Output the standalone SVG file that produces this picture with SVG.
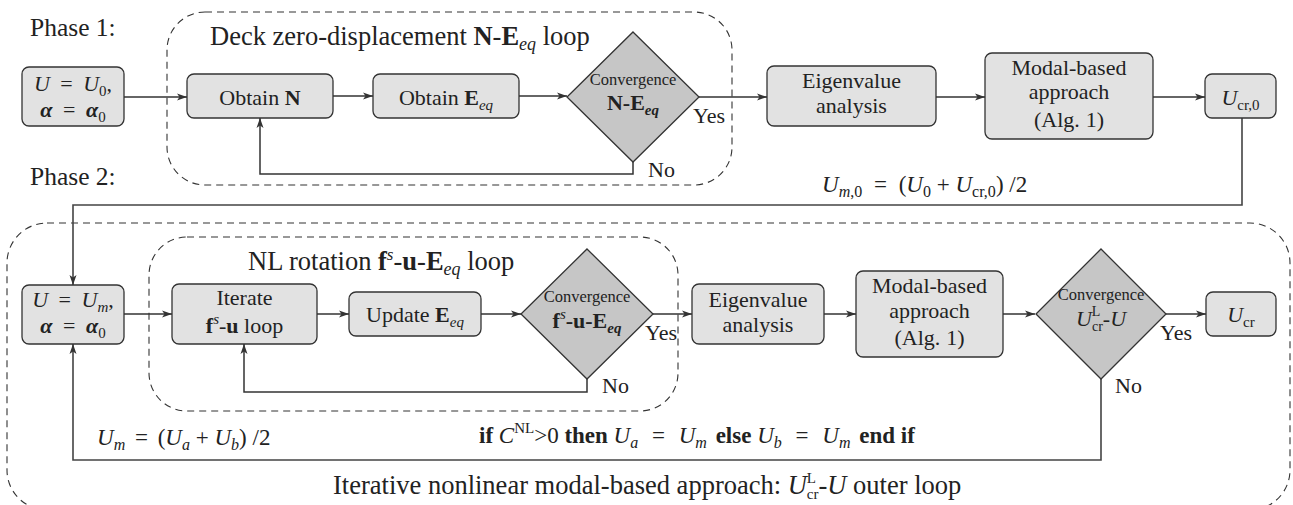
<svg xmlns="http://www.w3.org/2000/svg" width="1293" height="505" viewBox="0 0 1293 505" font-family="'Liberation Serif', 'DejaVu Serif', serif">
<defs>
<style>
text{font-family:'Liberation Serif','DejaVu Serif',serif;fill:#222;}
.t{font-size:22px;}
.m{font-size:23px;}
.big{font-size:26.5px;}
.ph{font-size:25.5px;}
.sm{font-size:16.5px;}
.box{fill:#e2e2e2;stroke:#333;stroke-width:1.3;}
.dia{fill:#c6c6c6;stroke:#333;stroke-width:1.3;}
.dash{fill:none;stroke:#333;stroke-width:1.1;stroke-dasharray:7 5;}
.ln{fill:none;stroke:#333;stroke-width:1.5;}
.frame{fill:none;stroke:#444;stroke-width:1.6;}
.i{font-style:italic;}
.b{font-weight:bold;}
</style>
<marker id="ah" markerWidth="10" markerHeight="8" refX="10" refY="4" orient="auto" markerUnits="userSpaceOnUse">
<path d="M0,0.5 L10,4 L0,7.5 L2.5,4 z" fill="#333"/>
</marker>
</defs>
<rect width="1293" height="505" fill="#fff"/>

<g id="labels">
<text class="ph" x="30" y="36">Phase 1:</text>
<text class="ph" x="30" y="185">Phase 2:</text>
</g>

<g id="loop1-frame">
<rect class="dash" x="167" y="12" width="565" height="173" rx="38"/>
<text class="big" x="210" y="45">Deck zero-displacement <tspan class="b">N</tspan>-<tspan class="b">E</tspan><tspan class="i" font-size="18" dy="5">eq</tspan><tspan dy="-5"> loop</tspan></text>
</g>
<g id="loop2-frame">
<rect class="dash" x="149" y="237" width="529" height="174" rx="38"/>
<text class="big" x="248" y="270">NL rotation <tspan class="b">f</tspan><tspan class="i" font-size="17" dy="-10">s</tspan><tspan dy="10">-</tspan><tspan class="b">u</tspan>-<tspan class="b">E</tspan><tspan class="i" font-size="18" dy="5">eq</tspan><tspan dy="-5"> loop</tspan></text>
</g>
<g id="outer-frame">
<rect class="dash" x="7" y="223" width="1283" height="287" rx="40"/>
</g>

<g id="connectors">
<line class="ln" x1="124" y1="97" x2="187" y2="97" marker-end="url(#ah)"/>
<line class="ln" x1="333" y1="96" x2="373" y2="96" marker-end="url(#ah)"/>
<line class="ln" x1="519" y1="96" x2="567" y2="96" marker-end="url(#ah)"/>
<line class="ln" x1="699" y1="97" x2="767" y2="97" marker-end="url(#ah)"/>
<line class="ln" x1="936" y1="97" x2="985" y2="97" marker-end="url(#ah)"/>
<line class="ln" x1="1153" y1="97" x2="1205" y2="97" marker-end="url(#ah)"/>
<polyline class="ln" points="633,162 633,174 260,174 260,118" marker-end="url(#ah)"/>
<polyline class="frame" points="1242,118 1242,205 73,205 73,285" marker-end="url(#ah)"/>
<line class="ln" x1="124" y1="314" x2="172" y2="314" marker-end="url(#ah)"/>
<line class="ln" x1="317" y1="314" x2="349" y2="314" marker-end="url(#ah)"/>
<line class="ln" x1="481" y1="314" x2="521" y2="314" marker-end="url(#ah)"/>
<line class="ln" x1="653" y1="314" x2="692" y2="314" marker-end="url(#ah)"/>
<line class="ln" x1="824" y1="314" x2="856" y2="314" marker-end="url(#ah)"/>
<line class="ln" x1="1003" y1="314" x2="1035" y2="314" marker-end="url(#ah)"/>
<line class="ln" x1="1166" y1="314" x2="1206" y2="314" marker-end="url(#ah)"/>
<polyline class="ln" points="587,379 587,392 244,392 244,344" marker-end="url(#ah)"/>
<polyline class="frame" points="1101,379 1101,460 73,460 73,344" marker-end="url(#ah)"/>
<text class="t" x="693" y="123">Yes</text>
<text class="t" x="648" y="177">No</text>
<text class="t" x="645" y="340">Yes</text>
<text class="t" x="602" y="393">No</text>
<text class="t" x="1160" y="340">Yes</text>
<text class="t" x="1115" y="393">No</text>
<text class="m" x="822" y="192"><tspan class="i">U</tspan><tspan class="i" font-size="16" dy="5">m</tspan><tspan font-size="16">,0</tspan><tspan dy="-5" dx="6"> = </tspan><tspan dx="6">(</tspan><tspan class="i">U</tspan><tspan font-size="16" dy="5">0</tspan><tspan dy="-5"> + </tspan><tspan class="i">U</tspan><tspan font-size="16" dy="5">cr,0</tspan><tspan dy="-5">) /2</tspan></text>
<text class="m" x="97" y="445"><tspan class="i">U</tspan><tspan class="i" font-size="16" dy="5">m</tspan><tspan dy="-5" dx="4"> = </tspan><tspan dx="4">(</tspan><tspan class="i">U</tspan><tspan class="i" font-size="16" dy="5">a</tspan><tspan dy="-5"> + </tspan><tspan class="i">U</tspan><tspan class="i" font-size="16" dy="5">b</tspan><tspan dy="-5">) /2</tspan></text>
<text class="m" x="479" y="443"><tspan class="b">if </tspan><tspan class="i">C</tspan><tspan font-size="15" dy="-10">NL</tspan><tspan dy="10">&gt;0 </tspan><tspan class="b">then </tspan><tspan class="i">U</tspan><tspan class="i" font-size="16" dy="5">a</tspan><tspan dy="-5" dx="8"> = </tspan><tspan class="i" dx="8">U</tspan><tspan class="i" font-size="16" dy="5">m</tspan><tspan dy="-5" dx="3" class="b"> else </tspan><tspan class="i">U</tspan><tspan class="i" font-size="16" dy="5">b</tspan><tspan dy="-5" dx="8"> = </tspan><tspan class="i" dx="8">U</tspan><tspan class="i" font-size="16" dy="5">m</tspan><tspan dy="-5" dx="3" class="b"> end if</tspan></text>
<text class="big" x="333" y="494">Iterative nonlinear modal-based approach: <tspan class="i">U</tspan><tspan font-size="15" dy="-11">L</tspan><tspan font-size="15" dx="-9.2" dy="16">cr</tspan><tspan dy="-5">-</tspan><tspan class="i">U</tspan> outer loop</text>
</g>

<g id="init1">
<rect class="box" x="22" y="67" width="102" height="59" rx="7"/>
<text class="t" x="73" y="91" text-anchor="middle"><tspan class="i">U</tspan><tspan dx="5"> = </tspan><tspan class="i" dx="5">U</tspan><tspan font-size="15" dy="5">0</tspan><tspan dy="-5">,</tspan></text>
<text class="t" x="73" y="117" text-anchor="middle"><tspan class="i b">α</tspan><tspan dx="5"> = </tspan><tspan class="i b" dx="5">α</tspan><tspan font-size="15" dy="5">0</tspan></text>
</g>
<g id="obtainN">
<rect class="box" x="187" y="74" width="146" height="44" rx="7"/>
<text class="t" x="260" y="105" text-anchor="middle">Obtain <tspan class="b">N</tspan></text>
</g>
<g id="obtainE">
<rect class="box" x="373" y="74" width="146" height="44" rx="7"/>
<text class="t" x="446" y="105" text-anchor="middle">Obtain <tspan class="b">E</tspan><tspan class="i" font-size="15" dy="5">eq</tspan></text>
</g>
<g id="conv1">
<polygon class="dia" points="633,32 699,97 633,162 567,97"/>
<text class="sm" x="633" y="85" text-anchor="middle">Convergence</text>
<text class="t b" x="633" y="110" text-anchor="middle">N-E<tspan class="i" font-size="15" dy="5">eq</tspan></text>
</g>
<g id="eigen1">
<rect class="box" x="767" y="66" width="169" height="60" rx="7"/>
<text class="t" x="851.5" y="88" text-anchor="middle">Eigenvalue</text>
<text class="t" x="851.5" y="113" text-anchor="middle">analysis</text>
</g>
<g id="modal1">
<rect class="box" x="985" y="53" width="168" height="86" rx="7"/>
<text class="t" x="1069" y="75" text-anchor="middle">Modal-based</text>
<text class="t" x="1069" y="99" text-anchor="middle">approach</text>
<text class="t" x="1069" y="127" text-anchor="middle">(Alg.<tspan dx="6">1)</tspan></text>
</g>
<g id="ucr0">
<rect class="box" x="1205" y="74" width="71" height="44" rx="7"/>
<text class="t" x="1240.5" y="105" text-anchor="middle"><tspan class="i">U</tspan><tspan font-size="15" dy="5">cr,0</tspan></text>
</g>

<g id="init2">
<rect class="box" x="22" y="285" width="102" height="59" rx="7"/>
<text class="t" x="73" y="307" text-anchor="middle"><tspan class="i">U</tspan><tspan dx="5"> = </tspan><tspan class="i" dx="5">U</tspan><tspan class="i" font-size="15" dy="5">m</tspan><tspan dy="-5">,</tspan></text>
<text class="t" x="73" y="333" text-anchor="middle"><tspan class="i b">α</tspan><tspan dx="5"> = </tspan><tspan class="i b" dx="5">α</tspan><tspan font-size="15" dy="5">0</tspan></text>
</g>
<g id="iterate">
<rect class="box" x="172" y="284" width="145" height="60" rx="7"/>
<text class="t" x="244.5" y="305" text-anchor="middle">Iterate</text>
<text class="t" x="244.5" y="333" text-anchor="middle"><tspan class="b">f</tspan><tspan class="i" font-size="15" dy="-9">s</tspan><tspan dy="9">-</tspan><tspan class="b">u</tspan> loop</text>
</g>
<g id="updateE">
<rect class="box" x="349" y="292" width="132" height="44" rx="7"/>
<text class="t" x="415" y="322" text-anchor="middle">Update <tspan class="b">E</tspan><tspan class="i" font-size="15" dy="5">eq</tspan></text>
</g>
<g id="conv2">
<polygon class="dia" points="587,249 653,314 587,379 521,314"/>
<text class="sm" x="587" y="302" text-anchor="middle">Convergence</text>
<text class="t b" x="587" y="328" text-anchor="middle">f<tspan class="i" font-weight="normal" font-size="15" dy="-9">s</tspan><tspan dy="9">-u-E</tspan><tspan class="i" font-size="15" dy="5">eq</tspan></text>
</g>
<g id="eigen2">
<rect class="box" x="692" y="284" width="132" height="60" rx="7"/>
<text class="t" x="758" y="307" text-anchor="middle">Eigenvalue</text>
<text class="t" x="758" y="332" text-anchor="middle">analysis</text>
</g>
<g id="modal2">
<rect class="box" x="856" y="271" width="147" height="86" rx="7"/>
<text class="t" x="929.5" y="293" text-anchor="middle">Modal-based</text>
<text class="t" x="929.5" y="318" text-anchor="middle">approach</text>
<text class="t" x="929.5" y="345" text-anchor="middle">(Alg.<tspan dx="6">1)</tspan></text>
</g>
<g id="conv3">
<polygon class="dia" points="1101,249 1166,314 1101,379 1036,314"/>
<text class="sm" x="1101" y="300" text-anchor="middle">Convergence</text>
<text class="t" x="1101" y="326" text-anchor="middle"><tspan class="i">U</tspan><tspan font-size="14" dy="-10">L</tspan><tspan font-size="14" dx="-8.5" dy="15">cr</tspan><tspan dy="-5">-</tspan><tspan class="i">U</tspan></text>
</g>
<g id="ucr">
<rect class="box" x="1206" y="292" width="70" height="44" rx="7"/>
<text class="t" x="1241" y="322" text-anchor="middle"><tspan class="i">U</tspan><tspan font-size="15" dy="5">cr</tspan></text>
</g>
</svg>
